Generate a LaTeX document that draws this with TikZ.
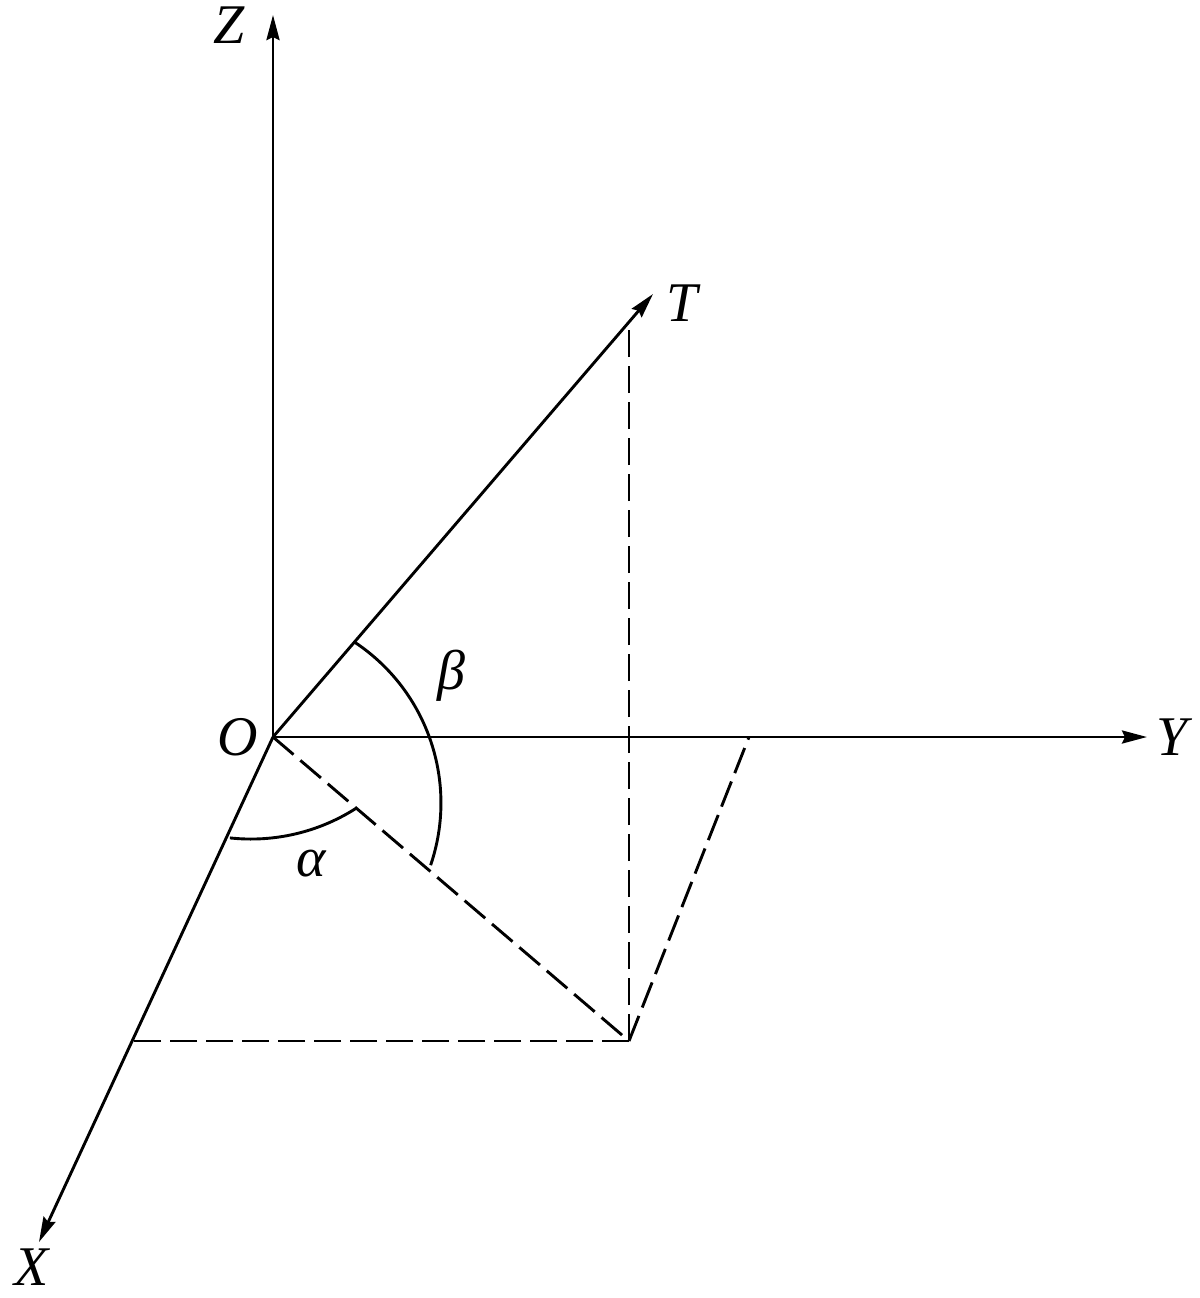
\documentclass[tikz,border=0pt]{standalone}
\usepackage{fontspec}
\setmainfont{Liberation Serif}[ItalicFont={Liberation Serif Italic}]
\usetikzlibrary{arrows.meta}
\begin{document}
\begin{tikzpicture}[x=0.5pt,y=-0.5pt,
  axisline/.style={line width=1.45pt,-{Stealth[length=12.5pt,width=6.5pt,inset=1.5pt]}},
  solidline/.style={line width=1.45pt},
  dashline/.style={line width=1.45pt,dash pattern=on 13.5pt off 4.5pt},
  lbl/.style={inner sep=0pt,font=\fontsize{28}{30}\selectfont\itshape}]
\useasboundingbox (0,0) rectangle (1200,1298);
% points
\coordinate (O) at (273,737);
\coordinate (Ztip) at (273,15);
\coordinate (Ytip) at (1147,737);
\coordinate (Xtip) at (39,1242);
\coordinate (Ttip) at (653,294);
\coordinate (Tfoot) at (629,330);
\coordinate (P) at (629,1041);
\coordinate (Px) at (133,1041);
\coordinate (Py) at (749,737);
% axes
\draw[axisline] (O) -- (Ztip);
\draw[axisline] (O) -- (Ytip);
\draw[axisline] (O) -- (Xtip);
\draw[axisline] (O) -- (Ttip);
% dashed projections
\draw[dashline] (O) -- (P);
\draw[dashline] (P) -- (Tfoot);
\draw[dashline] (P) -- (Px);
\draw[dashline] (P) -- (Py);
% angle arcs
\draw[solidline] (355.3,642.6) arc[start angle=56.2,end angle=-18.8,radius=96.5pt];
\draw[solidline] (229.9,837.9) arc[start angle=-96.2,end angle=-57.6,radius=97.5pt];
% labels
\node[lbl] (Zl) at (229,25) {Z};
\node[lbl] (Tl) at (682,303) {T};
\node[lbl] (Yl) at (1172,737) {Y};
\node[lbl] (Ol) at (238,737) {O};
\node[lbl] (Xl) at (32,1267) {X};
\node[lbl] (al) at (311,864) {α};
\node[lbl] (bl) at (451,676) {β};
\end{tikzpicture}
\end{document}
